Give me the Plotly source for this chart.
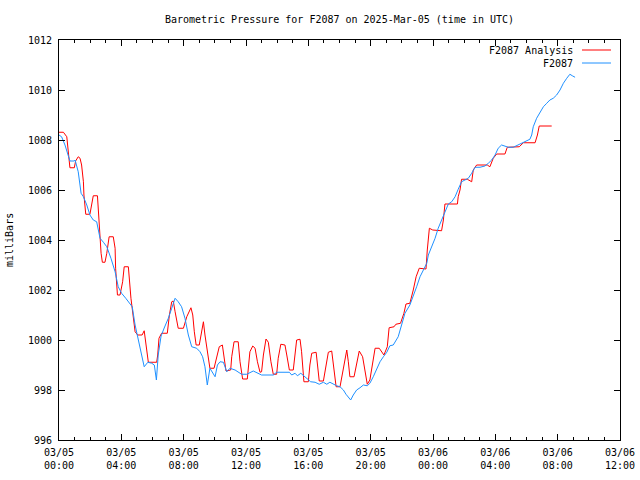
import pandas as pd
import plotly.graph_objects as go

START = "2025-03-05 00:00"
TITLE = "Barometric Pressure for F2087 on 2025-Mar-05 (time in UTC)"
Y_LABEL = "milliBars"
ANALYSIS_NAME = "F2087 Analysis"
OBS_NAME = "F2087"

# minutes after 2025-03-05 00:00 UTC, pressure in mb
analysis_min = [0, 17, 30, 34, 39, 42, 59, 64, 74, 81, 87, 94, 96, 103, 119, 126, 132, 148, 154, 158,
                162, 167, 177, 184, 193, 209, 216, 218, 225, 235, 245, 251, 267, 277, 286, 293, 303, 320,
                328, 340, 344, 376, 380, 385, 395, 417, 425, 434, 440, 447, 459, 479, 492, 508, 515, 521,
                528, 540, 549, 556, 562, 575, 581, 597, 607, 617, 629, 635, 643, 661, 665, 674, 690, 697,
                707, 725, 729, 735, 746, 755, 764, 774, 780, 787, 797, 806, 816, 825, 838, 844, 854, 870,
                877, 887, 902, 909, 915, 928, 934, 943, 960, 966, 973, 990, 995, 1002, 1018, 1028, 1037,
                1050, 1059, 1067, 1082, 1092, 1101, 1108, 1114, 1120, 1136, 1144, 1156, 1169, 1178, 1187,
                1197, 1208, 1217, 1233, 1242, 1251, 1264, 1271, 1290, 1297, 1315, 1328, 1336, 1351, 1364,
                1375, 1387, 1413, 1418, 1426, 1439, 1473, 1480, 1486, 1534, 1537, 1544, 1550, 1572, 1589,
                1595, 1608, 1649, 1659, 1672, 1685, 1717, 1726, 1772, 1788, 1833, 1842, 1849, 1897]
analysis_mb = [1008.31, 1008.31, 1008.13, 1007.60, 1007.08, 1006.89, 1006.89, 1007.16, 1007.33, 1007.27,
               1007.00, 1006.33, 1005.80, 1005.03, 1005.03, 1005.40, 1005.77, 1005.77, 1004.73, 1004.20,
               1003.47, 1003.11, 1003.11, 1003.47, 1004.13, 1004.13, 1003.67, 1002.87, 1001.80, 1001.80,
               1002.33, 1002.93, 1002.93, 1001.67, 1000.87, 1000.33, 1000.20, 1000.20, 1000.37, 999.53,
               999.11, 999.11, 999.40, 1000.07, 1000.27, 1000.27, 1001.00, 1001.53, 1001.56, 1001.13,
               1000.47, 1000.47, 1000.93, 1001.29, 1001.00, 1000.33, 999.80, 999.80, 1000.33, 1000.73,
               1000.20, 999.33, 998.87, 998.87, 999.33, 999.73, 999.80, 999.27, 998.76, 998.80, 999.33,
               999.93, 999.93, 999.13, 998.44, 998.44, 998.93, 999.53, 999.76, 999.67, 999.13, 998.71,
               998.73, 999.40, 1000.04, 999.91, 999.13, 998.63, 998.63, 999.27, 999.83, 999.80, 999.40,
               998.80, 998.80, 999.33, 1000.00, 1000.03, 999.53, 998.33, 998.33, 999.00, 999.47, 999.51,
               999.00, 998.36, 998.36, 999.00, 999.51, 999.56, 998.87, 998.13, 998.13, 998.73, 999.27,
               999.60, 999.13, 998.53, 998.53, 999.00, 999.56, 999.33, 998.73, 998.23, 998.40, 999.13,
               999.67, 999.67, 999.51, 999.40, 999.73, 1000.49, 1000.53, 1000.63, 1000.67, 1001.07,
               1001.44, 1001.47, 1002.00, 1002.53, 1002.87, 1002.84, 1003.60, 1004.47, 1004.40, 1004.37,
               1004.80, 1005.44, 1005.44, 1005.73, 1006.00, 1006.43, 1006.43, 1006.33, 1006.80, 1007.00,
               1007.00, 1006.93, 1007.27, 1007.44, 1007.44, 1007.71, 1007.73, 1007.89, 1007.89, 1008.20,
               1008.56, 1008.56]

obs_min = [0, 10, 23, 36, 42, 59, 62, 74, 85, 94, 107, 119, 132, 145, 151, 158, 171, 184, 200, 216, 228,
           241, 257, 273, 282, 293, 305, 318, 328, 342, 357, 367, 375, 382, 393, 405, 421, 434, 447, 459,
           472, 485, 498, 511, 530, 543, 553, 562, 571, 581, 592, 601, 610, 620, 633, 646, 658, 678, 703,
           723, 748, 767, 780, 825, 838, 887, 896, 909, 918, 931, 943, 954, 969, 986, 1002, 1018, 1031,
           1043, 1056, 1069, 1082, 1095, 1105, 1114, 1123, 1133, 1146, 1159, 1172, 1187, 1197, 1210, 1223,
           1236, 1249, 1262, 1274, 1287, 1306, 1319, 1332, 1351, 1364, 1377, 1390, 1403, 1416, 1422, 1435,
           1448, 1460, 1473, 1486, 1499, 1512, 1525, 1537, 1550, 1563, 1576, 1589, 1602, 1621, 1640, 1653,
           1666, 1679, 1691, 1704, 1717, 1730, 1749, 1768, 1788, 1813, 1820, 1826, 1839, 1852, 1865, 1878,
           1890, 1903, 1916, 1929, 1942, 1955, 1967, 1978, 1987]
obs_mb = [1008.20, 1008.13, 1007.80, 1007.33, 1007.16, 1007.16, 1007.20, 1006.73, 1005.87, 1005.73,
          1005.40, 1005.00, 1004.80, 1004.73, 1004.47, 1004.07, 1003.91, 1003.73, 1003.27, 1002.73,
          1002.13, 1001.87, 1001.67, 1001.43, 1001.33, 1000.60, 1000.07, 999.40, 998.93, 999.11, 999.07,
          999.00, 998.40, 999.40, 1000.16, 1000.48, 1000.87, 1001.27, 1001.67, 1001.53, 1001.33, 1000.87,
          1000.20, 999.73, 999.67, 999.53, 999.33, 998.93, 998.20, 998.87, 998.71, 998.53, 999.00, 999.13,
          999.11, 998.73, 998.87, 998.80, 998.63, 998.63, 998.76, 998.67, 998.60, 998.60, 998.71, 998.71,
          998.60, 998.67, 998.57, 998.67, 998.57, 998.47, 998.33, 998.31, 998.23, 998.31, 998.23, 998.31,
          998.23, 998.17, 998.13, 998.00, 997.83, 997.73, 997.60, 997.80, 998.00, 998.09, 998.20, 998.17,
          998.27, 998.53, 998.87, 999.13, 999.33, 999.51, 999.77, 999.80, 1000.13, 1000.60, 1001.07,
          1001.40, 1001.73, 1002.13, 1002.53, 1002.80, 1003.07, 1003.40, 1003.73, 1004.07, 1004.47,
          1004.80, 1005.13, 1005.44, 1005.53, 1005.73, 1006.03, 1006.33, 1006.40, 1006.47, 1006.67,
          1006.91, 1006.91, 1006.96, 1007.07, 1007.20, 1007.40, 1007.67, 1007.80, 1007.76, 1007.71,
          1007.71, 1007.80, 1007.89, 1008.03, 1008.20, 1008.53, 1008.87, 1009.13, 1009.33, 1009.47,
          1009.60, 1009.67, 1009.80, 1010.00, 1010.27, 1010.47, 1010.63, 1010.56, 1010.51]

Y_RANGE = [996, 1012]
X_RANGE = ["2025-03-05 00:00", "2025-03-06 12:00"]

RED = "#ff0000"
BLUE = "#1e90ff"
FONT = "DejaVu Sans Mono"

start = pd.Timestamp(START)
t_an = start + pd.to_timedelta(analysis_min, unit="m")
t_ob = start + pd.to_timedelta(obs_min, unit="m")

fig = go.Figure()
fig.add_trace(go.Scatter(x=t_an, y=analysis_mb, mode="lines", name=ANALYSIS_NAME,
                         line=dict(color=RED, width=1), showlegend=False, hoverinfo="skip"))
fig.add_trace(go.Scatter(x=t_ob, y=obs_mb, mode="lines", name=OBS_NAME,
                         line=dict(color=BLUE, width=1), showlegend=False, hoverinfo="skip"))

axis_common = dict(showgrid=False, zeroline=False, showline=True, linecolor="black", linewidth=1,
                   mirror="allticks", ticks="inside", tickcolor="black", tickwidth=1, automargin=False,
                   tickfont=dict(family=FONT, size=10, color="black"))

fig.update_layout(
    width=640, height=480, autosize=False,
    margin=dict(l=59, r=20, t=40, b=40, autoexpand=False),
    paper_bgcolor="white", plot_bgcolor="white",
    title=dict(text=TITLE, x=0.5, xref="paper", xanchor="center", y=1 - 19 / 480, yanchor="middle",
               font=dict(family=FONT, size=10, color="black")),
    xaxis=dict(type="date", range=X_RANGE, dtick=4 * 3600000, tick0=X_RANGE[0],
               tickformat="%m/%d<br>%H:%M", ticklen=6, ticklabelstandoff=3,
               minor=dict(dtick=3600000, ticks="inside", ticklen=3, tickcolor="black"),
               **axis_common),
    yaxis=dict(range=Y_RANGE, dtick=2, ticklen=6, ticklabelstandoff=4, **axis_common),
    annotations=[
        dict(text=Y_LABEL, textangle=-90, x=-50 / 561, y=0.5, xref="paper", yref="paper",
             xanchor="center", yanchor="middle", showarrow=False,
             font=dict(family=FONT, size=10, color="black")),
        dict(text=ANALYSIS_NAME, x=516 / 561, y=390 / 400, xref="paper", yref="paper",
             xanchor="right", yanchor="middle", showarrow=False,
             font=dict(family=FONT, size=10, color="black")),
        dict(text=OBS_NAME, x=516 / 561, y=377 / 400, xref="paper", yref="paper",
             xanchor="right", yanchor="middle", showarrow=False,
             font=dict(family=FONT, size=10, color="black")),
    ],
    shapes=[
        dict(type="line", xref="paper", yref="paper", x0=523 / 561, x1=552 / 561,
             y0=390 / 400, y1=390 / 400, line=dict(color=RED, width=1)),
        dict(type="line", xref="paper", yref="paper", x0=523 / 561, x1=552 / 561,
             y0=377 / 400, y1=377 / 400, line=dict(color=BLUE, width=1)),
    ],
)

fig.write_html("out.html", config={"displayModeBar": False, "responsive": False},
               post_script="document.body.style.margin='0';")
